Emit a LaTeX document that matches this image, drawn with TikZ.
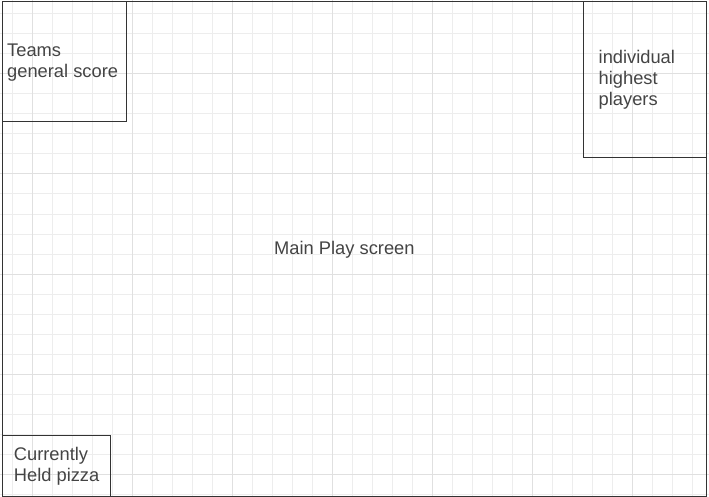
\documentclass[tikz,border=0pt]{standalone}
\usepackage{fontspec}
\setmainfont{Liberation Sans}
\definecolor{minorgrid}{HTML}{EDEDED}
\definecolor{majorgrid}{HTML}{E0E0E0}
\definecolor{ink}{HTML}{333333}
\definecolor{txt}{HTML}{444444}
\tikzset{
  box/.style={draw=ink, line width=1pt, inner sep=0pt, anchor=north west},
  lbl/.style={text=txt, inner sep=0pt, anchor=base west, font=\fontsize{18.3}{21}\selectfont},
  minorline/.style={draw=minorgrid, line width=1pt},
  majorline/.style={draw=majorgrid, line width=1pt}
}
\begin{document}
\begin{tikzpicture}[x=1pt,y=-1pt]
\useasboundingbox[fill=white] (0,0) rectangle (709,497);
% grid
\foreach \k in {0,...,34} { \draw[minorline] (12+20*\k,0) -- (12+20*\k,497); }
\foreach \k in {0,...,24} { \draw[minorline] (0,14+20*\k) -- (709,14+20*\k); }
\foreach \k in {0,...,6} { \draw[majorline] (32+100*\k,0) -- (32+100*\k,497); }
\foreach \k in {0,...,4} { \draw[majorline] (0,74+100*\k) -- (709,74+100*\k); }
% frames
\node[box, minimum width=703.7pt, minimum height=494pt] (screen) at (2,1.5) {};
\node[box, minimum width=123.5pt, minimum height=119.5pt] (teamsbox) at (2,1.5) {};
\node[box, minimum width=123.2pt, minimum height=155.2pt] (playersbox) at (582.5,1.5) {};
\node[box, minimum width=107.5pt, minimum height=61pt] (pizzabox) at (2,434.5) {};
% texts
\node[lbl] (teams1) at (7,57) {Teams};
\node[lbl] (teams2) at (7,78) {general score};
\node[lbl] (ind1) at (598.5,64) {individual};
\node[lbl] (ind2) at (598.5,85) {highest};
\node[lbl] (ind3) at (598.5,106) {players};
\node[lbl] (pz1) at (13.7,460) {Currently};
\node[lbl] (pz2) at (13.7,481) {Held pizza};
\node[lbl] (main) at (274,254) {Main Play screen};
\end{tikzpicture}
\end{document}
